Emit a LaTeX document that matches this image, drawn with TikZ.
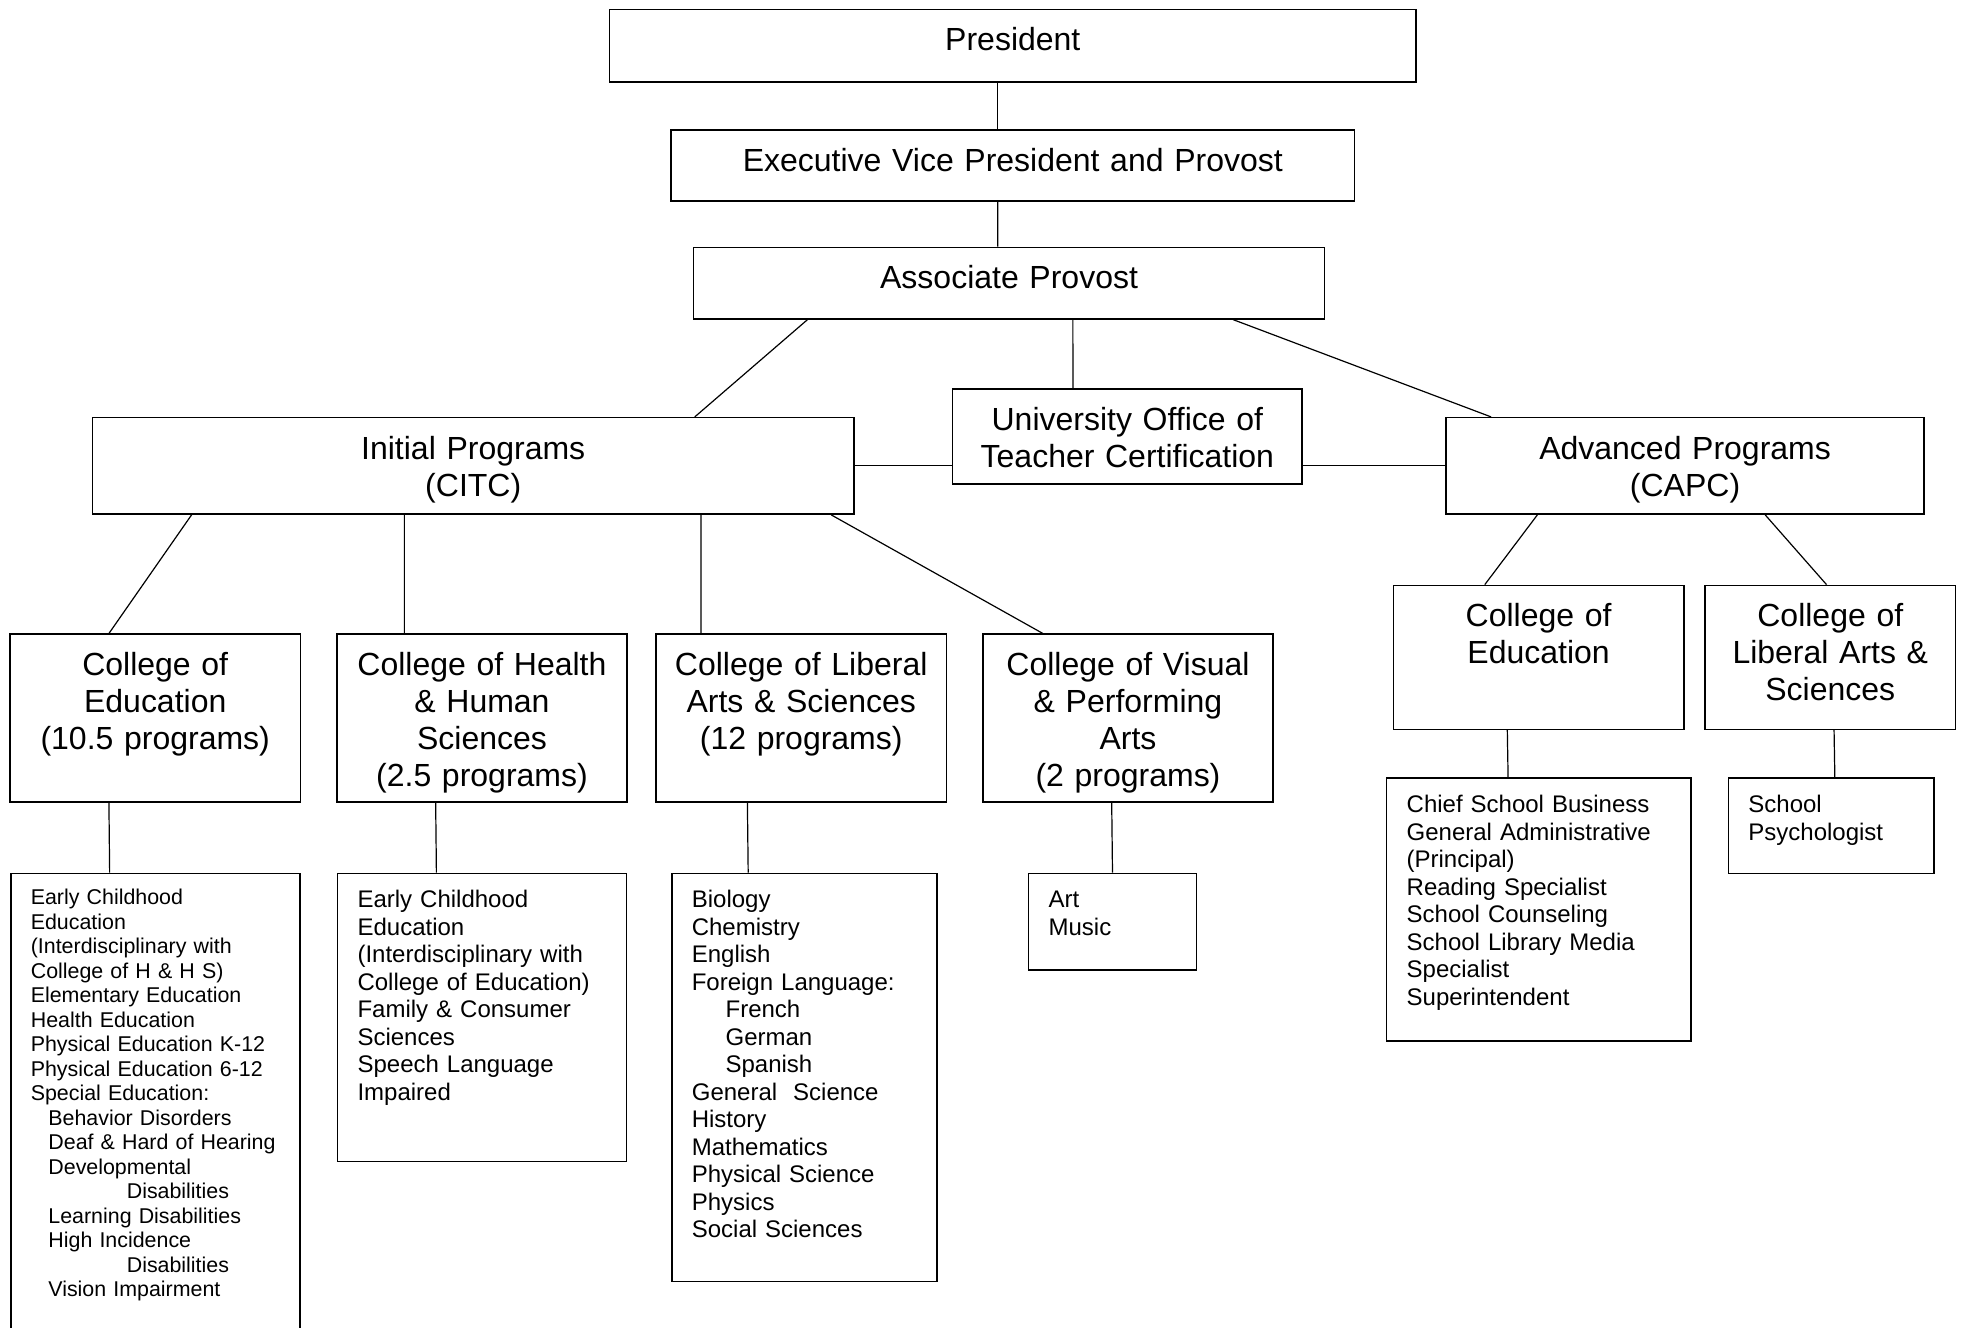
\documentclass[tikz,border=0pt]{standalone}
\usepackage{fontspec}
\setmainfont{Liberation Sans}
\newcommand{\headfont}{\fontsize{16}{18.5}\selectfont}
\newcommand{\listfont}{\fontsize{12}{13.75}\selectfont}
\newcommand{\smalllistfont}{\fontsize{10.7}{12.25}\selectfont}
\tikzstyle{headbox} = [rectangle, draw=black, line width=0.8pt, inner sep=0pt,
                       align=center, text height=20.7pt, font=\headfont]
\tikzstyle{listbox} = [rectangle, draw=black, line width=0.8pt, inner xsep=10pt,
                       inner ysep=0pt, align=left, text height=17.2pt, font=\listfont]
\tikzstyle{link} = [line width=0.6pt]

\begin{document}
\begin{tikzpicture}[x=0.022cm, y=-0.022cm]
    \useasboundingbox (0,0) rectangle (1568,1060);

    % Top levels
    \node[headbox, anchor=north, text width=14.17cm, text depth=15.6pt] (president) at (809,7) {President};
    \node[headbox, anchor=north, text width=12.01cm, text depth=15pt] (evp) at (809,103) {Executive Vice President and Provost};
    \node[headbox, anchor=north, text width=11.09cm, text depth=15pt] (assoc) at (806,197) {Associate Provost};

    % Programs row
    \node[headbox, anchor=north, text width=6.14cm, text depth=26.9pt] (uotc) at (900.5,310) {University Office of\\Teacher Certification};
    \node[headbox, anchor=north, text width=13.38cm, text depth=27.5pt] (initial) at (378,333) {Initial Programs\\(CITC)};
    \node[headbox, anchor=north, text width=8.40cm, text depth=27.5pt] (advanced) at (1346,333) {Advanced Programs\\(CAPC)};

    % Colleges, initial programs
    \node[headbox, anchor=north, text width=5.10cm, text depth=63.2pt] (coe) at (124,506) {College of\\Education\\(10.5 programs)};
    \node[headbox, anchor=north, text width=5.10cm, text depth=63.2pt] (chhs) at (385,506) {College of Health\\\& Human\\Sciences\\(2.5 programs)};
    \node[headbox, anchor=north, text width=5.10cm, text depth=63.2pt] (clas) at (640,506) {College of Liberal\\Arts \& Sciences\\(12 programs)};
    \node[headbox, anchor=north, text width=5.10cm, text depth=63.2pt] (cvpa) at (901,506) {College of Visual\\\& Performing\\Arts\\(2 programs)};

    % Colleges, advanced programs
    \node[headbox, anchor=north, text width=5.10cm, text depth=51.3pt] (advcoe) at (1229,467) {College of\\Education};
    \node[headbox, anchor=north, text width=4.40cm, text depth=51.3pt] (advclas) at (1462,467) {College of\\Liberal Arts \&\\Sciences};

    % Program lists
    \node[listbox, anchor=north west, text width=4.377cm, text height=15.7pt, text depth=224pt, font=\smalllistfont] (coelist) at (8,697)
        {Early Childhood\\Education\\(Interdisciplinary with\\College of H \& H S)\\Elementary Education\\Health Education\\
         Physical Education K-12\\Physical Education 6-12\\Special Education:\\
         \hspace*{8.8pt}Behavior Disorders\\\hspace*{8.8pt}Deaf \& Hard of Hearing\\\hspace*{8.8pt}Developmental\\
         \hspace*{48pt}Disabilities\\\hspace*{8.8pt}Learning Disabilities\\\hspace*{8.8pt}High Incidence\\
         \hspace*{48pt}Disabilities\\\hspace*{8.8pt}Vision Impairment};
    \node[listbox, anchor=north west, text width=4.377cm, text depth=126.8pt] (chhslist) at (269,697)
        {Early Childhood\\Education\\(Interdisciplinary with\\College of Education)\\Family \& Consumer\\Sciences\\Speech Language\\Impaired};
    \node[listbox, anchor=north west, text width=3.961cm, text depth=186.9pt] (claslist) at (536,697)
        {Biology\\Chemistry\\English\\Foreign Language:\\\hspace*{16.9pt}French\\\hspace*{16.9pt}German\\\hspace*{16.9pt}Spanish\\
         General\ \ Science\\History\\Mathematics\\Physical Science\\Physics\\Social Sciences};
    \node[listbox, anchor=north west, text width=2.245cm, text depth=31pt] (cvpalist) at (821,697) {Art\\Music};
    \node[listbox, anchor=north west, text width=4.643cm, text depth=114.3pt] (advcoelist) at (1107,621)
        {Chief School Business\\General Administrative\\(Principal)\\Reading Specialist\\School Counseling\\
         School Library Media\\Specialist\\Superintendent};
    \node[listbox, anchor=north west, text width=2.905cm, text depth=30.4pt] (advclaslist) at (1380,621) {School\\Psychologist};

    % Links, top levels
    \draw[link] ([xshift=-0.264cm]president.south) -- ([xshift=-0.264cm]evp.north);
    \draw[link] ([xshift=-0.264cm]evp.south) -- ([xshift=-0.198cm]assoc.north);
    \draw[link] ([xshift=-3.542cm]assoc.south) -- ([xshift=3.894cm]initial.north);
    \draw[link] ([xshift=1.122cm]assoc.south) -- ([xshift=-0.957cm]uotc.north);
    \draw[link] ([xshift=3.938cm]assoc.south) -- ([xshift=-3.41cm]advanced.north);
    \draw[link] (initial.east) -- (initial.east -| uotc.west);
    \draw[link] (uotc.east |- advanced.west) -- (advanced.west);

    % Links to colleges
    \draw[link] ([xshift=-4.95cm]initial.south) -- ([xshift=-0.814cm]coe.north);
    \draw[link] ([xshift=-1.21cm]initial.south) -- ([xshift=-1.364cm]chhs.north);
    \draw[link] ([xshift=4.004cm]initial.south) -- ([xshift=-1.76cm]clas.north);
    \draw[link] ([xshift=6.292cm]initial.south) -- ([xshift=-1.496cm]cvpa.north);
    \draw[link] ([xshift=-2.596cm]advanced.south) -- ([xshift=-0.946cm]advcoe.north);
    \draw[link] ([xshift=1.408cm]advanced.south) -- ([xshift=-0.066cm]advclas.north);

    % Links to program lists
    \draw[link] ([xshift=-0.814cm]coe.south) -- ([xshift=-0.803cm]coelist.north);
    \draw[link] ([xshift=-0.814cm]chhs.south) -- ([xshift=-0.803cm]chhslist.north);
    \draw[link] ([xshift=-0.946cm]clas.south) -- ([xshift=-0.99cm]claslist.north);
    \draw[link] ([xshift=-0.286cm]cvpa.south) -- (cvpalist.north);
    \draw[link] ([xshift=-0.55cm]advcoe.south) -- ([xshift=-0.539cm]advcoelist.north);
    \draw[link] ([xshift=0.066cm]advclas.south) -- ([xshift=0.066cm]advclaslist.north);
\end{tikzpicture}
\end{document}
